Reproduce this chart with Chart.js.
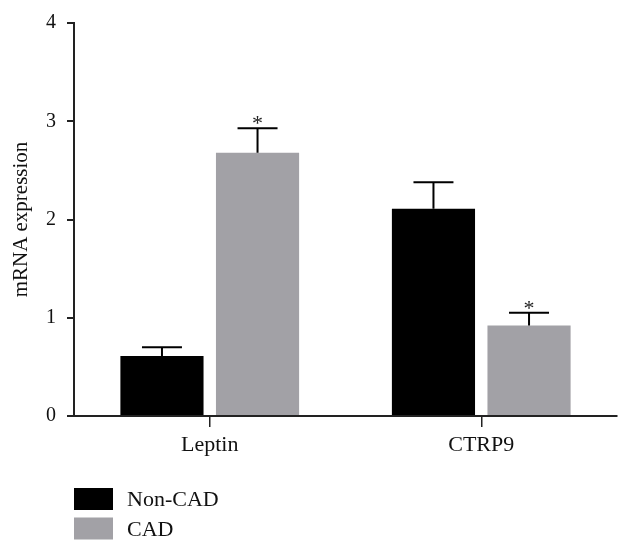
<!DOCTYPE html>
<html>
<head>
<meta charset="utf-8">
<script src="https://cdn.jsdelivr.net/npm/chart.js@4.4.1/dist/chart.umd.min.js"></script>
<style>
  html, body { margin: 0; padding: 0; background: #fff; }
  #wrap { width: 630px; height: 553px; }
</style>
</head>
<body>
<div id="wrap"><canvas id="barChart" width="630" height="553"></canvas></div>
<script>
var categories = ["Leptin", "CTRP9"];
var groupNames = ["Non-CAD", "CAD"];
var nonCadValues = [0.61, 2.11];
var nonCadErrors = [0.09, 0.27];
var cadValues = [2.68, 0.92];
var cadErrors = [0.25, 0.13];
var cadStars = ["*", "*"];
var yTicks = [0, 1, 2, 3, 4];

var serif = "'Liberation Serif', 'DejaVu Serif', serif";

// error bars + significance marks
var errorBarPlugin = {
  id: 'errorBars',
  afterDatasetsDraw: function (chart) {
    var ctx = chart.ctx;
    var yScale = chart.scales.y;
    chart.data.datasets.forEach(function (ds, di) {
      var meta = chart.getDatasetMeta(di);
      meta.data.forEach(function (bar, i) {
        var top = yScale.getPixelForValue(ds.data[i] + ds.errors[i]);
        ctx.save();
        ctx.strokeStyle = '#000';
        ctx.lineWidth = 2;
        ctx.beginPath();
        ctx.moveTo(bar.x, bar.y);
        ctx.lineTo(bar.x, top);
        ctx.moveTo(bar.x - 20, top);
        ctx.lineTo(bar.x + 20, top);
        ctx.stroke();
        if (ds.stars && ds.stars[i]) {
          ctx.fillStyle = '#222';
          ctx.font = "22px " + serif;
          ctx.textAlign = 'center';
          ctx.textBaseline = 'alphabetic';
          ctx.fillText(ds.stars[i], bar.x, top + 2);
        }
        ctx.restore();
      });
    });
  }
};

// legend stacked vertically under the plot
var stackedLegend = {
  id: 'stackedLegend',
  afterDraw: function (chart) {
    var ctx = chart.ctx;
    chart.data.datasets.forEach(function (ds, di) {
      var y = 488 + di * 29.5;
      ctx.save();
      ctx.fillStyle = ds.backgroundColor;
      ctx.fillRect(74, y, 39, 22);
      ctx.fillStyle = '#111';
      ctx.font = "22px " + serif;
      ctx.textBaseline = 'alphabetic';
      ctx.fillText(ds.label, 127, y + 18);
      ctx.restore();
    });
  }
};

new Chart(document.getElementById('barChart'), {
  type: 'bar',
  data: {
    labels: categories,
    datasets: [
      { label: groupNames[0], data: nonCadValues, errors: nonCadErrors, backgroundColor: '#000000' },
      { label: groupNames[1], data: cadValues, errors: cadErrors, stars: cadStars, backgroundColor: '#a2a1a6' }
    ]
  },
  options: {
    responsive: false,
    animation: false,
    categoryPercentage: 0.704,
    barPercentage: 0.87,
    layout: { padding: { top: 22, right: 13, left: 9, bottom: 97 } },
    plugins: {
      legend: { display: false },
      tooltip: { enabled: false }
    },
    scales: {
      x: {
        offset: true,
        grid: { display: true, offset: false, drawOnChartArea: false, drawTicks: true, tickLength: 11, color: '#222', lineWidth: 1.5 },
        border: { display: true, color: '#222', width: 2 },
        ticks: { color: '#111', font: { family: serif, size: 22 }, padding: 5 },
        afterFit: function (scale) { scale.height = 40; }
      },
      y: {
        min: 0,
        max: 4,
        afterBuildTicks: function (scale) {
          scale.ticks = yTicks.map(function (v) { return { value: v }; });
        },
        grid: { display: true, drawOnChartArea: false, drawTicks: true, tickLength: 7, color: '#222', lineWidth: 2 },
        border: { display: true, color: '#222', width: 2 },
        ticks: { color: '#111', font: { family: serif, size: 20 }, padding: 11 },
        title: { display: true, text: 'mRNA expression', color: '#111', font: { family: serif, size: 21 }, padding: 0 },
        afterFit: function (scale) { scale.width = 65; }
      }
    }
  },
  plugins: [errorBarPlugin, stackedLegend]
});
</script>
</body>
</html>
